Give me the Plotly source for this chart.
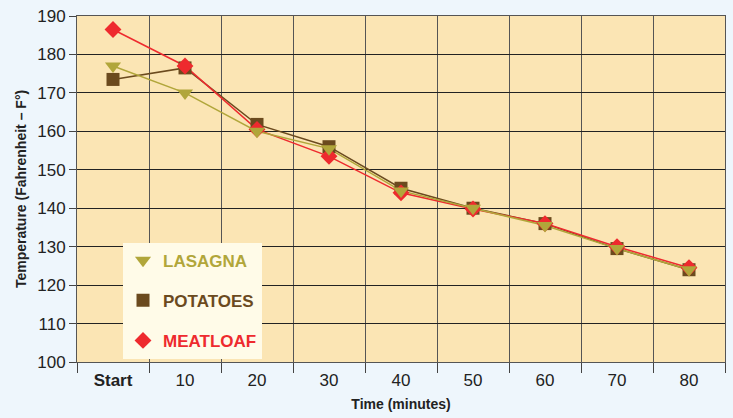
import plotly.graph_objects as go

categories = ["Start", "10", "20", "30", "40", "50", "60", "70", "80"]
tick_labels = ["<b>Start</b>", "10", "20", "30", "40", "50", "60", "70", "80"]
lasagna = [177, 170, 160, 155.5, 144.5, 140, 135.5, 129.5, 124]
potatoes = [173.5, 176.5, 161.8, 156, 145.2, 140, 136, 129.5, 124]
meatloaf = [186.5, 177, 160.5, 153.5, 144, 139.8, 136, 130, 124.5]

C_LAS = "#B1A63A"
C_POT = "#6B4A1E"
C_MEAT = "#EE2A2E"

fig = go.Figure()

series = [
    ("POTATOES", potatoes, C_POT, "square", 13, 2),
    ("MEATLOAF", meatloaf, C_MEAT, "diamond", 13, 3),
    ("LASAGNA", lasagna, C_LAS, "triangle-down", 14, 1),
]
for name, vals, col, sym, size, rank in series:
    fig.add_trace(go.Scatter(
        x=categories, y=vals, mode="lines", line=dict(color=col, width=1.5),
        showlegend=False, hoverinfo="skip"))
for name, vals, col, sym, size, rank in series:
    fig.add_trace(go.Scatter(
        x=categories, y=vals, mode="markers",
        marker=dict(color=col, symbol=sym, size=size, line=dict(width=0)),
        name=f"<b><span style='color:{col}'>{name}</span></b>",
        legendgroup=name, legendrank=rank))

fig.update_layout(
    width=733, height=418,
    margin=dict(l=77, r=8, t=16, b=56, autoexpand=False),
    paper_bgcolor="#EEF6FC",
    plot_bgcolor="#FBE5B4",
    font=dict(family="Liberation Sans, Arial, sans-serif", color="#222222", size=15),
    legend=dict(
        x=0.071, y=0.345, xanchor="left", yanchor="top",
        bgcolor="#FFFBE8", borderwidth=0,
        font=dict(size=17, family="Liberation Sans, Arial, sans-serif"),
        traceorder="grouped", tracegroupgap=15,
        itemwidth=30,
    ),
    xaxis=dict(
        type="category", categoryorder="array", categoryarray=categories,
        range=[-0.5, len(categories) - 0.5],
        tickmode="array", tickvals=categories, ticktext=tick_labels,
        tickson="boundaries", ticks="outside", ticklen=10, tickcolor="#444444",
        ticklabelstandoff=3,
        showgrid=True, gridcolor="#555555", gridwidth=1,
        showline=True, linecolor="#555555", mirror=True, automargin=False,
        tickfont=dict(size=17, color="#222222"),
        title=dict(text="<b>Time (minutes)</b>", standoff=9,
                   font=dict(size=14, family="Liberation Sans, Arial")),
    ),
    yaxis=dict(
        range=[100, 190], tickmode="linear", tick0=100, dtick=10,
        ticks="outside", ticklen=7, tickcolor="#444444",
        showgrid=True, gridcolor="#222222", gridwidth=1,
        showline=True, linecolor="#555555", mirror=True, zeroline=False, automargin=False,
        tickfont=dict(size=17, color="#222222"),
        title=dict(text="<b>Temperature (Fahrenheit – F°)</b>", standoff=7,
                   font=dict(size=14, family="Liberation Sans, Arial")),
    ),
)

fig.write_html(
    "out.html",
    config={"displayModeBar": False},
    post_script="document.body.style.margin='0';document.body.style.overflow='hidden';"
                "document.body.style.background='#EEF6FC';",
)
